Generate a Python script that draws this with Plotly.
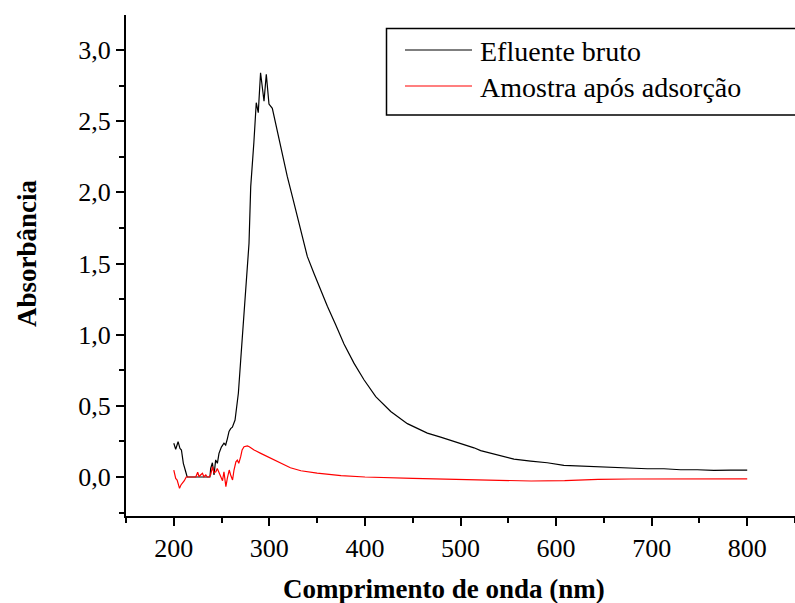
import plotly.graph_objects as go

# Efluente bruto (black)
wl_bruto = [200, 202, 204.5, 206.5, 208, 210, 212.5, 214, 237.8, 238.6, 240.4, 242.1, 243.8, 245.6,
            247.3, 249.8, 252.5, 254.3, 256.1, 257.8, 259.5, 261.3, 264.1, 267.6, 270, 273.5, 276,
            278.7, 280.5, 282.9, 283.8, 286.3, 288.4, 290.8, 294.4, 296.8, 299.6, 303.1, 306.6,
            310.0, 313.6, 318.8, 324.1, 329.3, 334.5, 339.7, 346.7, 353.7, 360.7, 369.4, 378.1,
            388.5, 399, 411.3, 427, 444.4, 465.3, 479.2, 496.7, 514.1, 521.1, 538.5, 555.9,
            573.4, 590.8, 608.2, 625.7, 643.1, 660.6, 678, 695.5, 712.9, 730.3, 747.8, 765.2,
            782.6, 800]
abs_bruto = [0.237, 0.195, 0.248, 0.20, 0.19, 0.096, 0.037, 0.0, 0.0, 0.06, 0.10, 0.014, 0.12, 0.096,
             0.166, 0.21, 0.237, 0.225, 0.27, 0.32, 0.34, 0.35, 0.40, 0.59, 0.82, 1.126, 1.336,
             1.64, 2.04, 2.226, 2.35, 2.63, 2.56, 2.84, 2.64, 2.83, 2.62, 2.59, 2.48,
             2.37, 2.25, 2.11, 1.97, 1.83, 1.69, 1.55, 1.43, 1.31, 1.20, 1.07, 0.935,
             0.80, 0.683, 0.565, 0.46, 0.375, 0.308, 0.28, 0.243, 0.205, 0.185, 0.155, 0.126,
             0.112, 0.10, 0.082, 0.077, 0.07, 0.063, 0.058, 0.058, 0.058, 0.051, 0.051, 0.047,
             0.049, 0.049]

# Amostra após adsorção (red)
wl_ads = [200, 202, 203.5, 206, 207.5, 209, 211, 213, 223, 225, 226.5, 228, 230, 231.5, 233.5, 235,
          237, 238.5, 240.5, 242, 244, 245.5, 247.5, 249, 251, 252.5, 254.5, 256, 258, 259.5,
          261.5, 263, 265, 266.5, 268, 270, 271.5, 273.5, 277, 279, 284, 291, 301.5, 312, 322,
          333, 350, 375, 400, 450, 500, 540, 574, 609, 644, 678, 713, 800]
abs_ads = [0.049, -0.01, -0.021, -0.08, -0.056, -0.044, -0.026, 0.0, 0.0, 0.033, 0.002, 0.014,
           0.026, 0.002, 0.014, 0.0, 0.0, 0.014, 0.072, 0.03, 0.037, 0.06, 0.026, 0.002, -0.026,
           0.037, -0.068, -0.01, 0.049, 0.014, -0.021, 0.049, 0.107, 0.119, 0.096, 0.143, 0.19,
           0.213, 0.218, 0.213, 0.19, 0.166, 0.131, 0.096, 0.065, 0.044, 0.027, 0.01, 0.0, -0.01,
           -0.016, -0.026, -0.028, -0.026, -0.016, -0.014, -0.013, -0.013]

x_ticks = [200, 300, 400, 500, 600, 700, 800]
y_ticks = [0.0, 0.5, 1.0, 1.5, 2.0, 2.5, 3.0]
y_ticktext = ["0,0", "0,5", "1,0", "1,5", "2,0", "2,5", "3,0"]
series_names = ["Efluente bruto", "Amostra após adsorção"]
series_colors = ["#000000", "#ff0000"]

FONT = "'Times New Roman', 'Liberation Serif', 'DejaVu Serif', serif"

fig = go.Figure()
fig.add_trace(go.Scatter(x=wl_bruto, y=abs_bruto, mode="lines", name=series_names[0],
                         line=dict(color=series_colors[0], width=1.2), showlegend=False))
fig.add_trace(go.Scatter(x=wl_ads, y=abs_ads, mode="lines", name=series_names[1],
                         line=dict(color=series_colors[1], width=1.2), showlegend=False))

axis_common = dict(showgrid=False, zeroline=False, showline=True, linecolor="black", linewidth=2,
                   ticks="outside", ticklen=8, tickwidth=2, tickcolor="black",
                   tickfont=dict(family=FONT, size=26, color="black"))

fig.update_xaxes(range=[150, 850], tickvals=x_ticks, ticktext=[str(v) for v in x_ticks],
                 minor=dict(dtick=50, tick0=150, ticks="outside", ticklen=5, tickwidth=2,
                            tickcolor="black"),
                 **axis_common)
fig.update_yaxes(range=[-0.274, 3.246], tickvals=y_ticks, ticktext=y_ticktext,
                 minor=dict(dtick=0.25, tick0=0, ticks="outside", ticklen=5, tickwidth=2,
                            tickcolor="black"),
                 **axis_common)

# Axis titles
fig.add_annotation(text="<b>Comprimento de onda (nm)</b>", xref="paper", yref="paper",
                   x=0.476, y=-0.145, xanchor="center", yanchor="middle", showarrow=False,
                   font=dict(family=FONT, size=27, color="black"))
fig.add_annotation(text="<b>Absorbância</b>", xref="paper", yref="paper",
                   x=-0.148, y=0.525, xanchor="center", yanchor="middle", showarrow=False,
                   textangle=-90, font=dict(family=FONT, size=27, color="black"))

# Legend (drawn manually to match the original layout)
def px2x(px):
    return (px - 126) / 669.0

def py2y(py):
    return (516 - py) / 501.0

fig.add_shape(type="rect", xref="paper", yref="paper", x0=px2x(386.5), x1=px2x(810),
              y0=py2y(115), y1=py2y(28.5), line=dict(color="black", width=1.5),
              fillcolor="white")
legend_rows = [50, 86]
for name, color, row in zip(series_names, series_colors, legend_rows):
    fig.add_shape(type="line", xref="paper", yref="paper", x0=px2x(405), x1=px2x(472),
                  y0=py2y(row), y1=py2y(row), line=dict(color=color, width=1.2))
    fig.add_annotation(text=name, xref="paper", yref="paper", x=px2x(478), y=py2y(row + 1),
                       xanchor="left", yanchor="middle", showarrow=False,
                       font=dict(family=FONT, size=28, color="black"))

fig.update_layout(width=795, height=603, margin=dict(l=126, r=0, t=15, b=87),
                  plot_bgcolor="white", paper_bgcolor="white", showlegend=False,
                  font=dict(family=FONT, color="black"))

fig.write_html("out.html")
